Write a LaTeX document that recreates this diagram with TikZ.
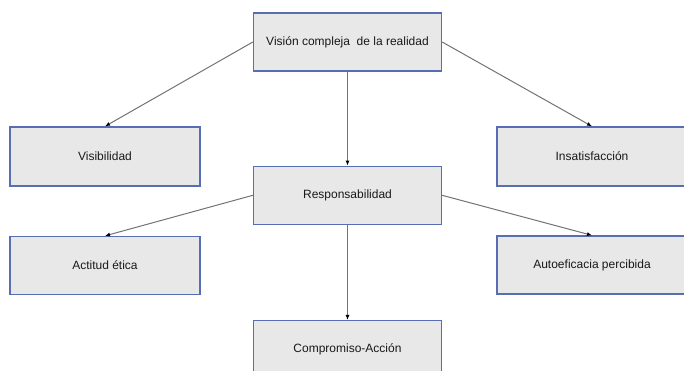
\documentclass[tikz,border=0pt]{standalone}
\usepackage{fontspec}
\setmainfont{Liberation Sans}
\usetikzlibrary{arrows.meta}
\usetikzlibrary{positioning}

\definecolor{boxblue}{RGB}{88,110,178}
\definecolor{boxfill}{RGB}{232,232,232}
\definecolor{linkgray}{RGB}{115,115,115}
\definecolor{textgray}{RGB}{25,25,25}

\begin{document}
\begin{tikzpicture}[
            x=1pt, y=-1pt,
            concept/.style={rectangle, draw=boxblue, fill=boxfill, line width=1.3pt, minimum height=58pt, minimum width=188pt, align=center, font=\fontsize{12}{14}\selectfont, text=textgray},
            link/.style={-{Latex[length=5pt, width=4pt, black]}, draw=linkgray, line width=1pt}
        ]
        \useasboundingbox (0,0) rectangle (684,371);

        % Centre column
        \node[concept] (vision) at (347.5,42) {Visión compleja\ \ de la realidad};
        \node[concept, below=94pt of vision] (resp) {Responsabilidad};
        \node[concept, below=95pt of resp] (comp) {Compromiso-Acción};

        % Side boxes
        \node[concept, minimum width=190pt, minimum height=59pt] (visib) at (105,156.5) {Visibilidad};
        \node[concept, minimum width=190pt, minimum height=59pt] (insat) at (592,156.5) {Insatisfacción};
        \node[concept, minimum width=190pt] (actitud) at (105,265.5) {Actitud ética};
        \node[concept, minimum width=190pt] (autoef) at (592,265) {Autoeficacia percibida};

        % Arrows from the top box
        \draw[link] (vision.west) -- (visib.north);
        \draw[link] (vision.east) -- (insat.north);
        \draw[link] (vision.south) -- (resp.north);

        % Arrows from Responsabilidad
        \draw[link] (resp.west) -- (actitud.north);
        \draw[link] (resp.east) -- (autoef.north);
        \draw[link] (resp.south) -- (comp.north);

    \end{tikzpicture}
\end{document}
